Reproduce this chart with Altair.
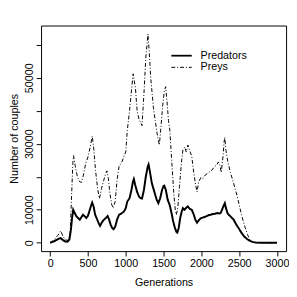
import altair as alt
import pandas as pd

# Preys (dash-dot)
gen_prey = [0, 50, 100, 140, 170, 200, 240, 265, 285, 300, 310, 330, 360, 390, 415, 440, 470, 500, 530, 556,
            575, 600, 630, 652, 680, 710, 735, 751, 770, 790, 815, 834, 860, 885, 912, 950, 980, 1000, 1020,
            1050, 1075, 1098, 1128, 1150, 1175, 1195, 1215, 1240, 1265, 1293, 1310, 1330, 1350, 1366, 1390,
            1415, 1444, 1465, 1490, 1510, 1527, 1545, 1565, 1583, 1610, 1635, 1655, 1669, 1690, 1710, 1735,
            1756, 1780, 1800, 1821, 1845, 1873, 1900, 1925, 1942, 1965, 1994, 2020, 2050, 2080, 2110, 2140,
            2170, 2200, 2225, 2245, 2263, 2285, 2300, 2310, 2325, 2350, 2384, 2420, 2450, 2471, 2500, 2530,
            2560, 2579, 2610, 2644, 2680, 2720, 3000]
prey = [0, 800, 2200, 3600, 2000, 900, 700, 3000, 15000, 24000, 26400, 23500, 20000, 18500, 18300, 20500,
        24000, 26000, 29000, 32300, 29000, 22000, 16000, 13400, 16500, 19000, 21000, 21800, 19500, 15000,
        11500, 10500, 12500, 19000, 23200, 24500, 26500, 27500, 34000, 40000, 46000, 51200, 46800, 40000,
        37500, 36500, 35500, 45000, 56000, 63300, 58000, 50000, 45000, 40900, 37000, 33000, 29600, 35000,
        42000, 46000, 47300, 43000, 37000, 34000, 24000, 15000, 10000, 8500, 11000, 17000, 24000, 28200,
        29000, 27500, 29600, 28000, 26200, 21000, 17500, 15400, 18500, 19800, 19500, 20500, 21000, 21500,
        22000, 23000, 23500, 24500, 23500, 21300, 26000, 30500, 32000, 28000, 24500, 21300, 18500, 16000,
        14400, 11500, 8500, 6000, 4600, 2500, 700, 150, 0, 0]

# Predators (solid)
gen_pred = [0, 50, 80, 110, 140, 170, 200, 230, 255, 275, 290, 305, 325, 348, 370, 392, 415, 435, 458, 478,
            500, 525, 545, 556, 575, 595, 620, 640, 660, 680, 700, 717, 740, 760, 780, 800, 820, 838, 860,
            885, 912, 940, 977, 1000, 1020, 1050, 1075, 1095, 1107, 1125, 1150, 1175, 1195, 1215, 1240, 1265,
            1290, 1302, 1320, 1345, 1366, 1390, 1410, 1431, 1455, 1480, 1500, 1509, 1530, 1555, 1580, 1605,
            1626, 1650, 1670, 1682, 1700, 1720, 1740, 1756, 1775, 1800, 1821, 1845, 1873, 1900, 1920, 1942,
            1965, 1990, 2016, 2040, 2070, 2100, 2124, 2150, 2180, 2210, 2240, 2254, 2270, 2290, 2310, 2325,
            2345, 2362, 2385, 2405, 2427, 2450, 2475, 2500, 2514, 2540, 2570, 2600, 2630, 2660, 2687, 2720,
            2800, 3000]
pred = [0, 400, 800, 1200, 1400, 800, 400, 300, 1000, 4000, 7500, 10000, 9000, 8000, 7500, 7000, 7800, 8500,
        8000, 7500, 8200, 10000, 11500, 12200, 11000, 8500, 7200, 6000, 5100, 6000, 6700, 7100, 7600, 8100,
        7000, 5500, 4500, 4100, 4800, 7000, 8500, 8800, 9500, 10500, 12500, 13500, 16000, 18500, 19300,
        17500, 15400, 14000, 13500, 13400, 16000, 20000, 23000, 23700, 21500, 18000, 16400, 14500, 13000,
        12000, 13500, 16000, 17200, 17300, 16000, 13000, 11500, 9000, 6600, 4500, 3300, 3100, 4500, 7500,
        9500, 10500, 10000, 10600, 11000, 10300, 10000, 8500, 7000, 6100, 6800, 7400, 7600, 7800, 8100,
        8400, 8500, 8700, 8800, 9000, 8900, 9000, 9800, 11000, 12000, 10500, 9000, 8500, 8000, 7500, 7000,
        6000, 5000, 4200, 3600, 2700, 1800, 1200, 700, 400, 200, 100, 0, 0]

series_names = ["Predators", "Preys"]
x_ticks = [0, 500, 1000, 1500, 2000, 2500, 3000]
y_ticks = [0, 10000, 20000, 30000, 40000, 50000, 60000]
y_labels_shown = [0, 10000, 30000, 50000]

df_pred = pd.DataFrame({"gen": gen_pred, "value": pred, "series": series_names[0]})
df_prey = pd.DataFrame({"gen": gen_prey, "value": prey, "series": series_names[1]})

FONT = "Liberation Sans"

x_enc = alt.X("gen:Q",
              scale=alt.Scale(domain=[-120, 3120], nice=False, zero=False),
              axis=alt.Axis(values=x_ticks, title="Generations", format="d",
                            labelPadding=2, titlePadding=8))
label_expr = ("indexof([" + ",".join(str(v) for v in y_labels_shown) +
              "], datum.value) >= 0 ? format(datum.value, 'd') : ''")
y_enc = alt.Y("value:Q",
              scale=alt.Scale(domain=[-2530, 65830], nice=False, zero=False),
              axis=alt.Axis(values=y_ticks, title="Number of couples", labelExpr=label_expr,
                            labelAngle=-90, labelAlign="center", labelBaseline="bottom",
                            labelPadding=2, titlePadding=4))

prey_line = alt.Chart(df_prey).mark_line(color="black", strokeWidth=1, strokeDash=[4, 2, 1, 2]).encode(
    x=x_enc, y=y_enc, order="gen:Q")
pred_line = alt.Chart(df_pred).mark_line(color="black", strokeWidth=2).encode(
    x=x_enc, y=y_enc, order="gen:Q")

# legend (annotation inside the plot, top right, no box)
leg_solid = alt.Chart(pd.DataFrame({"a": [0]})).mark_rule(color="black", strokeWidth=1.8).encode(
    x=alt.value(134), x2=alt.value(155), y=alt.value(31))
leg_dash = alt.Chart(pd.DataFrame({"a": [0]})).mark_rule(
    color="black", strokeWidth=1, strokeDash=[4, 2, 1, 2]).encode(
    x=alt.value(134), x2=alt.value(155), y=alt.value(43))
leg_t1 = alt.Chart(pd.DataFrame({"label": [series_names[0]]})).mark_text(
    align="left", baseline="middle", font=FONT, fontSize=11, color="black").encode(
    x=alt.value(164), y=alt.value(31), text="label:N")
leg_t2 = alt.Chart(pd.DataFrame({"label": [series_names[1]]})).mark_text(
    align="left", baseline="middle", font=FONT, fontSize=11, color="black").encode(
    x=alt.value(164), y=alt.value(43), text="label:N")

chart = alt.layer(prey_line, pred_line, leg_solid, leg_dash, leg_t1, leg_t2).properties(
    width=252, height=232,
    autosize=alt.AutoSizeParams(type="none"),
    padding={"left": 34, "top": 14, "right": 3, "bottom": 38},
    background="white",
).configure_view(
    stroke="black", strokeWidth=1
).configure_axis(
    domain=False, grid=False, ticks=True, tickSize=5, tickColor="black", tickWidth=1,
    labelFont=FONT, labelFontSize=11, labelColor="black",
    titleFont=FONT, titleFontSize=11, titleColor="black", titleFontWeight="normal",
)

chart.save("out.html", embed_options={"renderer": "svg", "actions": False})
